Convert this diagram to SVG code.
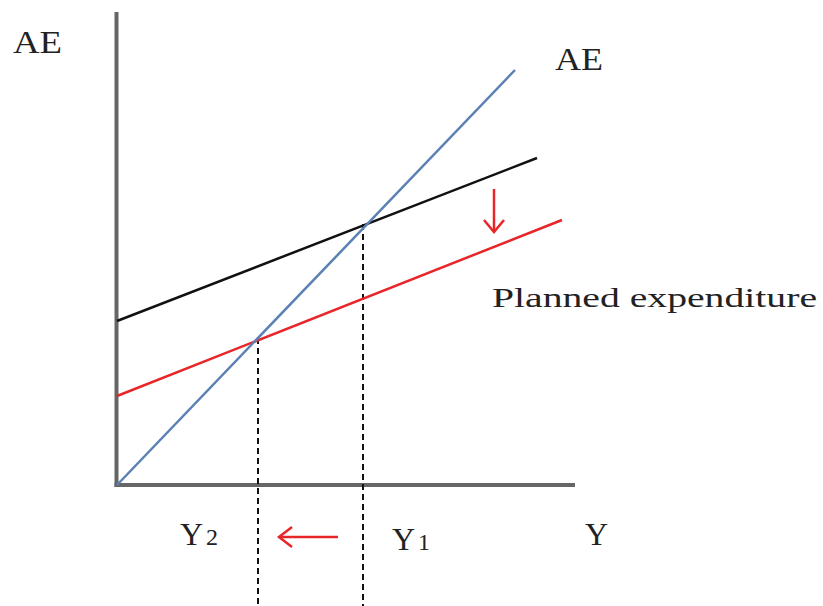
<svg xmlns="http://www.w3.org/2000/svg" width="823" height="606" viewBox="0 0 823 606">
<style>
.lbl{font-family:"Liberation Serif","Times New Roman",serif;fill:#222;}
.axis{stroke:#666;stroke-width:4;fill:none;}
.dash{stroke:#111;stroke-width:2;stroke-dasharray:6 4;fill:none;}
.red{stroke:#e8262a;stroke-width:2.5;fill:none;}
</style>
<rect width="823" height="606" fill="#fff"/>
<g id="axes">
<line class="axis" x1="116.5" y1="12" x2="116.5" y2="487"/>
<line class="axis" x1="114.5" y1="485" x2="575" y2="485"/>
</g>
<g id="connectors">
<line class="dash" x1="363" y1="224" x2="363" y2="606"/>
<line class="dash" x1="258" y1="338" x2="258" y2="606"/>
<line id="pe-black" x1="117" y1="321" x2="537" y2="158" stroke="#111" stroke-width="2.5"/>
<line id="pe-red" x1="117" y1="396" x2="562" y2="220" stroke="#e8262a" stroke-width="2.5"/>
<line id="ae-blue" x1="117" y1="485" x2="515" y2="70" stroke="#5a80b4" stroke-width="2.5"/>
<g id="arrow-down">
<line class="red" x1="494" y1="189" x2="494" y2="231"/>
<polyline class="red" points="484,220 494,232 504,220"/>
</g>
<g id="arrow-left">
<line class="red" x1="338" y1="537" x2="279" y2="537"/>
<polyline class="red" points="292,527 279,537 292,547"/>
</g>
</g>
<g id="labels">
<text class="lbl" x="13" y="53" font-size="32" textLength="49" lengthAdjust="spacingAndGlyphs">AE</text>
<text class="lbl" x="555" y="70" font-size="32" textLength="48" lengthAdjust="spacingAndGlyphs">AE</text>
<text class="lbl" x="492" y="307" font-size="28" textLength="325" lengthAdjust="spacingAndGlyphs">Planned expenditure</text>
<text class="lbl" x="180" y="545" font-size="32">Y<tspan font-size="24" dx="3">2</tspan></text>
<text class="lbl" x="392" y="550" font-size="32">Y<tspan font-size="24" dx="3">1</tspan></text>
<text class="lbl" x="585" y="545" font-size="32">Y</text>
</g>
</svg>
